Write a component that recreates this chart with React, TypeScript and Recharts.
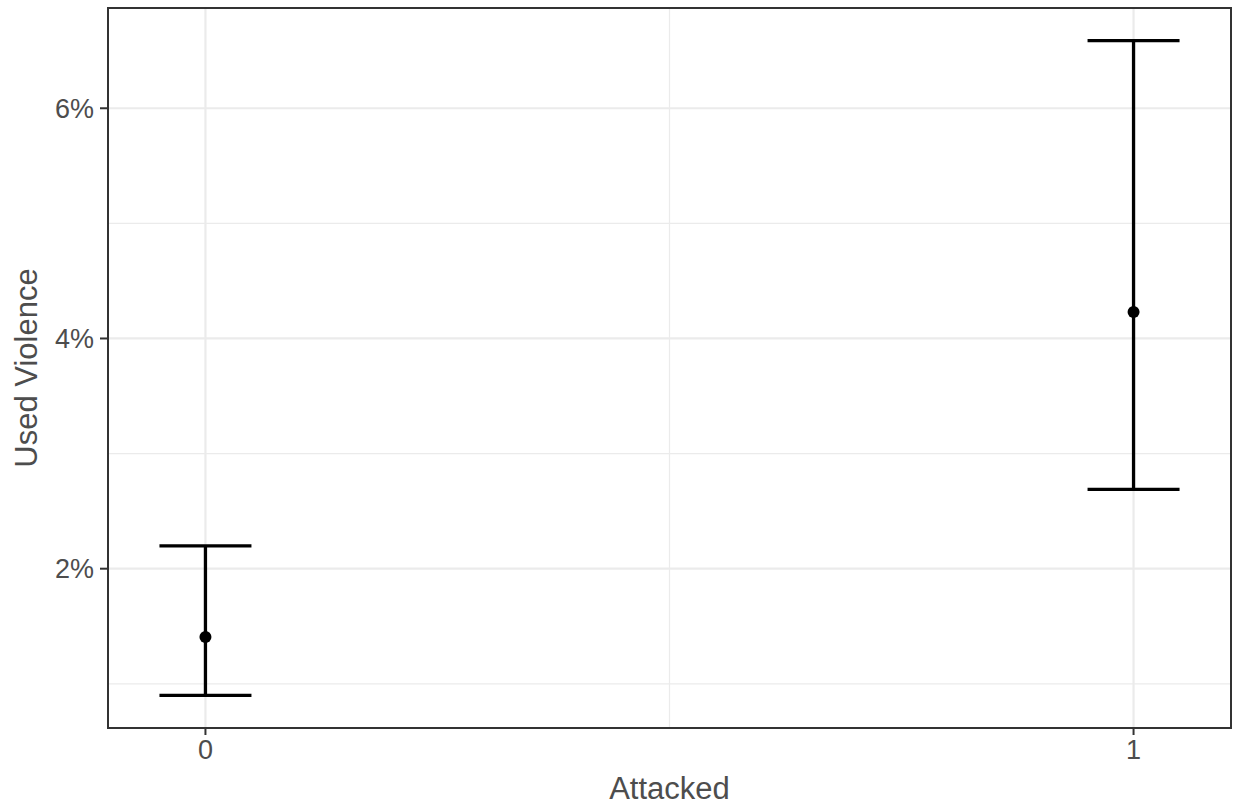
import { ScatterChart, Scatter, XAxis, YAxis, CartesianGrid, ErrorBar, ReferenceArea } from "recharts";

const attacked = [0, 1];
const meanPct = [1.407, 4.23];
const lowPct = [0.9, 2.689];
const highPct = [2.198, 6.587];

const yTicks = [2, 4, 6];
const yMinor = [1, 3, 5];
const xTicks = [0, 1];
const xMinor = [0.5];

const X_DOMAIN: [number, number] = [-0.105, 1.105];
const Y_DOMAIN: [number, number] = [0.616, 6.871];

const data = attacked.map((x, i) => ({
  x,
  y: meanPct[i],
  err: [meanPct[i] - lowPct[i], highPct[i] - meanPct[i]],
}));

const TEXT = "#4D4D4D";

function Dot(props: any) {
  return <circle cx={props.cx} cy={props.cy} r={6} fill="#000" />;
}

export default function App() {
  return (
    <div style={{ position: "absolute", left: 0, top: 0, fontFamily: "'Liberation Sans', Arial, sans-serif" }}>
      <ScatterChart width={1235} height={805} margin={{ top: 8, right: 4, bottom: 0, left: 0 }}>
        <CartesianGrid horizontalValues={yMinor} verticalValues={xMinor} stroke="#EBEBEB" strokeWidth={1.2} />
        <CartesianGrid horizontalValues={yTicks} verticalValues={xTicks} stroke="#EBEBEB" strokeWidth={2.2} />
        <XAxis
          type="number"
          dataKey="x"
          domain={X_DOMAIN}
          ticks={xTicks}
          interval={0}
          height={77}
          axisLine={false}
          tickSize={7}
          tickMargin={5}
          tickLine={{ stroke: "#333", strokeWidth: 2 }}
          tick={{ fill: TEXT, fontSize: 27 }}
          label={({ viewBox }: any) => (
            <text x={viewBox.x + viewBox.width / 2} y={viewBox.y + viewBox.height - 6} textAnchor="middle" fill={TEXT} fontSize={31}>
              Attacked
            </text>
          )}
        />
        <YAxis
          type="number"
          dataKey="y"
          domain={Y_DOMAIN}
          ticks={yTicks}
          interval={0}
          width={108}
          axisLine={false}
          tickSize={8}
          tickMargin={6}
          tickLine={{ stroke: "#333", strokeWidth: 2 }}
          tick={{ fill: TEXT, fontSize: 27 }}
          tickFormatter={(v: number) => `${v}%`}
          label={({ viewBox }: any) => {
            const cx = viewBox.x + 26;
            const cy = viewBox.y + viewBox.height / 2;
            return (
              <text x={cx} y={cy} transform={`rotate(-90 ${cx} ${cy})`} textAnchor="middle" dominantBaseline="central" fill={TEXT} fontSize={31}>
                Used Violence
              </text>
            );
          }}
        />
        <ReferenceArea x1={X_DOMAIN[0]} x2={X_DOMAIN[1]} y1={Y_DOMAIN[0]} y2={Y_DOMAIN[1]} fill="none" stroke="#333" strokeWidth={2} ifOverflow="visible" />
        <Scatter data={data} shape={Dot} isAnimationActive={false}>
          <ErrorBar dataKey="err" direction="y" width={46} stroke="#000" strokeWidth={3.3} isAnimationActive={false} />
        </Scatter>
      </ScatterChart>
    </div>
  );
}
